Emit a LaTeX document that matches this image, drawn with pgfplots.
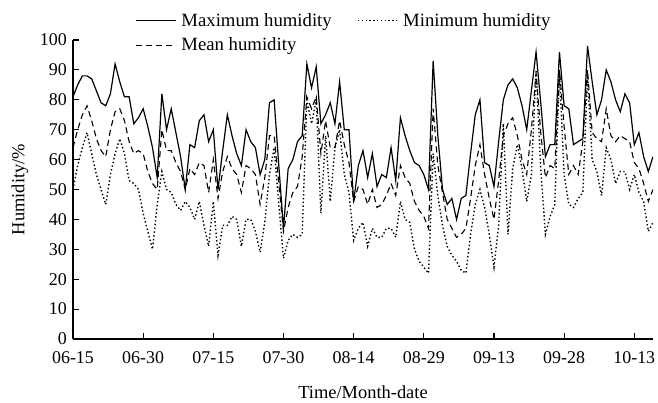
\documentclass[border=0pt]{standalone}
\usepackage{fontspec}
\setmainfont{Liberation Serif}
\usepackage{pgfplots}
\usepackage{pgfplotstable}
\pgfplotsset{compat=1.18}
\pgfplotstableread{
d mx mn me
0 81 50 64
1 85 58 70
2 88 64 75
3 88 69 78
4 87 62 73
5 83 55 67
6 79 50 63
7 78 45 61
8 82 55 70
9 92 62 76
10 86 67 77
11 81 62 73
12 81 53 66
13 72 52 62
14 74 50 63
15 77 42 62
16 71 36 56
17 64 30 52
18 54 45 50
19 82 56 70
20 70 50 63
21 77 49 63
22 69 45 59
23 61 43 56
24 50 46 50
25 65 44 57
26 64 40 55
27 73 46 59
28 75 38 58
29 66 31 49
30 70 46 60
31 50 28 47
32 63 38 56
33 75 38 61
34 68 41 57
35 62 40 55
36 58 31 49
37 70 40 58
38 66 40 57
39 64 36 55
40 55 29 45
41 60 39 54
42 79 55 68
43 80 64 68
44 58 45 52
45 37 27 36
46 57 33 44
47 60 35 49
48 66 34 51
49 68 35 61
50 92 80 81
51 84 72 77
52 91 80 81
53 72 42 62
54 75 68 73
55 79 46 64
56 72 64 64
57 86 70 73
58 70 55 65
59 70 49 59
60 46 33 46
61 58 37 51
62 63 39 50
63 54 31 45
64 62 37 50
65 51 34 44
66 55 34 45
67 54 37 48
68 64 37 52
69 53 34 48
70 74 46 58
71 68 40 54
72 63 39 52
73 59 30 46
74 58 26 43
75 55 24 41
76 50 22 37
77 93 62 77
78 68 48 58
79 50 38 49
80 45 31 40
81 47 28 37
82 40 26 34
83 47 23 35
84 48 22 37
85 62 35 47
86 75 45 58
87 80 50 65
88 59 44 55
89 58 35 47
90 51 24 40
91 66 38 53
92 80 72 68
93 85 35 72
94 87 57 74
95 84 65 68
96 78 57 60
97 70 46 55
98 83 55 70
99 96 90 89
100 79 57 69
101 61 35 54
102 65 41 58
103 65 45 57
104 96 89 90
105 78 55 71
106 77 45 55
107 65 44 58
108 66 47 55
109 67 49 66
110 98 88 90
111 86 60 69
112 75 56 67
113 80 48 66
114 90 64 77
115 86 60 68
116 80 52 66
117 76 56 68
118 82 56 67
119 79 50 66
120 65 55 59
121 69 49 57
122 61 46 52
123 56 36 46
124 61 39 50
}\hum
\begin{document}
\begin{tikzpicture}
\begin{axis}[
  at={(0,0)}, anchor=south west,
  scale only axis, width=580bp, height=299bp,
  xmin=0, xmax=124, ymin=0, ymax=100,
  axis lines*=left,
  axis line style={line width=1.4bp},
  tick align=inside,
  major tick length=6bp,
  tick style={line width=1.2bp, black},
  xtick={0,15,...,120},
  xticklabels={06-15,06-30,07-15,07-30,08-14,08-29,09-13,09-28,10-13},
  ytick={0,10,...,100},
  /pgf/number format/assume math mode=true,
  tick label style={font=\fontsize{18}{21}\selectfont, inner sep=2bp},
  xticklabel style={yshift=-10bp},
  yticklabel style={xshift=-4bp},
  label style={font=\fontsize{18.5}{21}\selectfont, inner sep=1bp},
  xlabel={Time/Month-date},
  ylabel={Humidity/\%},
  xlabel style={at={(axis description cs:0.5,-0.178)}, anchor=center},
  ylabel style={at={(axis description cs:-0.0914,0.5)}, anchor=center},
  legend style={font=\fontsize{18.8}{21}\selectfont,
    at={(axis description cs:0.1078,1.1063)}, anchor=north west,
    draw=none, fill=none, inner sep=0pt,
    nodes={inner xsep=4.5bp, inner ysep=5bp},
    /tikz/every even column/.append style={column sep=21bp}},
  legend columns=2,
  legend cell align=left,
  legend image code/.code={\draw[#1] (0bp,0bp) -- (40bp,0bp);},
]
\addplot[black, line width=1.2bp] table[x=d, y=mx] {\hum};
\addlegendentry{Maximum humidity}
\addplot[black, line width=1.4bp, dash pattern=on 1.4bp off 2.4bp] table[x=d, y=mn] {\hum};
\addlegendentry{Minimum humidity}
\addplot[black, line width=1.1bp, dash pattern=on 6bp off 4bp] table[x=d, y=me] {\hum};
\addlegendentry{Mean humidity}
\end{axis}
\pgfresetboundingbox
\useasboundingbox (-73bp,-64bp) rectangle (585bp,339bp);
\end{tikzpicture}
\end{document}
